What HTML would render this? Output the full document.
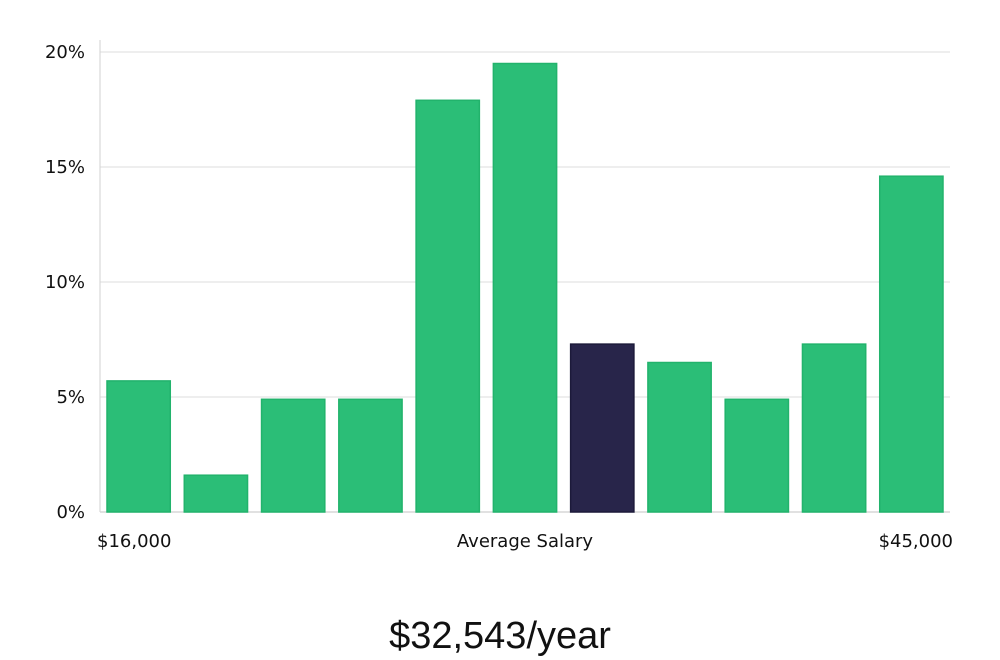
<!DOCTYPE html>
<html><head><meta charset="utf-8"><style>
html,body{margin:0;padding:0;background:#fff;width:1000px;height:660px;overflow:hidden}
text{font-family:"DejaVu Sans","Liberation Sans",sans-serif}
</style></head><body>
<svg id="chart" width="1000" height="660" xmlns="http://www.w3.org/2000/svg"></svg>
<script>
const categories=["b1","b2","b3","b4","b5","b6","b7","b8","b9","b10","b11"];
const values=[5.7,1.6,4.9,4.9,17.9,19.5,7.3,6.5,4.9,7.3,14.6];
const highlight=[false,false,false,false,false,false,true,false,false,false,false];
const yTicks=[0,5,10,15,20];
const yTickLabels=["0%","5%","10%","15%","20%"];
const xLabels=["$16,000","Average Salary","$45,000"];
const NS="http://www.w3.org/2000/svg";
const svg=document.getElementById('chart');
const L=100,R=950,T=52,B=512,yMax=20;
const y=v=>B-(v/yMax)*(B-T);
const band=(R-L)/categories.length;
const x=i=>L+i*band;
function mk(tag,attrs){const e=document.createElementNS(NS,tag);for(const k in attrs)e.setAttribute(k,attrs[k]);svg.appendChild(e);return e;}
yTicks.forEach((t,i)=>{
  const g=mk('line',{x1:L,x2:R,y1:y(t),y2:y(t),stroke:t===0?'#cfcfcf':'#e3e3e3','stroke-width':1.2});
  
  
  const tx=mk('text',{x:85,y:y(t)+6,'text-anchor':'end','font-size':18,fill:'#111'});
  tx.textContent=yTickLabels[i];
  
  
});
const ax=mk('line',{x1:L,x2:L,y1:40,y2:B,stroke:'#d8d8d8','stroke-width':1.2});


values.forEach((v,i)=>{
  const r=mk('rect',{x:x(i)+7,y:y(v),width:band-14,height:B-y(v),fill:highlight[i]?'#28254a':'#2bbe77',stroke:highlight[i]?'#1c1a3a':'#22b36c','stroke-width':1.5});
  
  
});
const xPos=[[97,'start'],[525,'middle'],[953,'end']];
xLabels.forEach((s,i)=>{
  const t=mk('text',{x:xPos[i][0],y:547,'text-anchor':xPos[i][1],'font-size':18,fill:'#111'});
  t.textContent=s;
  
  
});
const title=mk('text',{x:500,y:648,'text-anchor':'middle','font-size':38,fill:'#111'});
title.setAttribute('style','font-family:"Liberation Sans Narrow","Liberation Sans",sans-serif');
title.textContent="$32,543/year";


</script>
</body></html>
